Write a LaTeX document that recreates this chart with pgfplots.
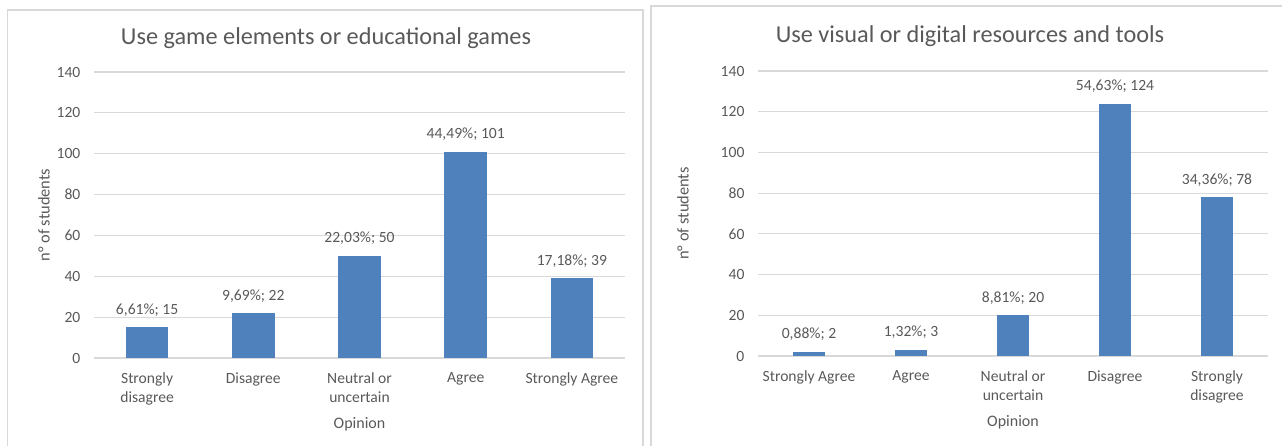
\documentclass[border=0pt]{standalone}
\usepackage{fontspec}
\setmainfont{Carlito}
\usepackage{pgfplots}
\pgfplotsset{compat=1.18}
\definecolor{barblue}{HTML}{4F81BD}
\definecolor{txt}{HTML}{595959}
\definecolor{gridc}{HTML}{D9D9D9}
\pgfplotsset{
  panel/.style={
    scale only axis,
    ymin=0, ymax=140, ytick={0,20,...,140},
    xmin=-0.5, xmax=4.5, xtick={0,1,2,3,4},
    axis line style={draw=none},
    major tick length=0pt,
    ymajorgrids,
    grid style={gridc, line width=0.9pt},
    tick label style={font=\fontsize{11.7}{14.3}\selectfont, text=txt},
    /pgf/number format/assume math mode=true,
    yticklabel style={anchor=east, inner sep=0pt, xshift=-10pt},
    xticklabel style={anchor=north, inner sep=0pt, yshift=-11pt, align=center},
    every axis x label/.style={at={(axis description cs:0.5,0)}, anchor=base, yshift=-52.5pt, font=\fontsize{12}{14}\selectfont, text=txt},
    ybar, bar shift=0pt,
    every node near coord/.append style={anchor=base, inner sep=0pt, yshift=9.75pt, font=\fontsize{11.7}{14}\selectfont, text=txt},
    xlabel={Opinion},
    ylabel={n° of students},
  },
  lab/.style={fill=barblue, draw=none, nodes near coords={#1}},
}
\begin{document}
\begin{tikzpicture}
\useasboundingbox (0pt,0pt) rectangle (961.5pt,334.5pt);
\draw[gridc, line width=1.1pt] (5.6pt,-8pt) rectangle (482.2pt,327pt);
\draw[gridc, line width=1.1pt] (488.2pt,-8pt) rectangle (969pt,330pt);
\node[font=\fontsize{18.2}{21}\selectfont, text=txt, anchor=base] at (244.5pt,301.3pt) {Use game elements or educational games};
\node[font=\fontsize{18.2}{21}\selectfont, text=txt, anchor=base] at (727.5pt,302.3pt) {Use visual or digital resources and tools};

\begin{axis}[panel,
  at={(70.5pt,66pt)}, anchor=south west,
  width=398.25pt, height=214.5pt,
  bar width=0.40,
  xticklabels={{Strongly\\disagree},{Disagree},{Neutral or\\uncertain},{Agree},{Strongly Agree}},
  every axis y label/.style={at={(axis description cs:-0.094,0.5)}, rotate=90, anchor=center, font=\fontsize{12.3}{14}\selectfont, text=txt},
]
\addplot[lab={6,61\%; 15}] coordinates {(0,15)};
\addplot[lab={9,69\%; 22}] coordinates {(1,22)};
\addplot[lab={22,03\%; 50}] coordinates {(2,50)};
\addplot[lab={44,49\%; 101}] coordinates {(3,101)};
\addplot[lab={17,18\%; 39}] coordinates {(4,39)};
\end{axis}

\begin{axis}[panel,
  at={(568.5pt,67.5pt)}, anchor=south west,
  width=382.5pt, height=213.75pt,
  bar width=0.32,
  xticklabels={{Strongly Agree},{Agree},{Neutral or\\uncertain},{Disagree},{Strongly\\disagree}},
  every axis y label/.style={at={(axis description cs:-0.147,0.5)}, rotate=90, anchor=center, font=\fontsize{12.3}{14}\selectfont, text=txt},
]
\addplot[lab={0,88\%; 2}] coordinates {(0,2)};
\addplot[lab={1,32\%; 3}] coordinates {(1,3)};
\addplot[lab={8,81\%; 20}] coordinates {(2,20)};
\addplot[lab={54,63\%; 124}] coordinates {(3,124)};
\addplot[lab={34,36\%; 78}] coordinates {(4,78)};
\end{axis}
\end{tikzpicture}
\end{document}
